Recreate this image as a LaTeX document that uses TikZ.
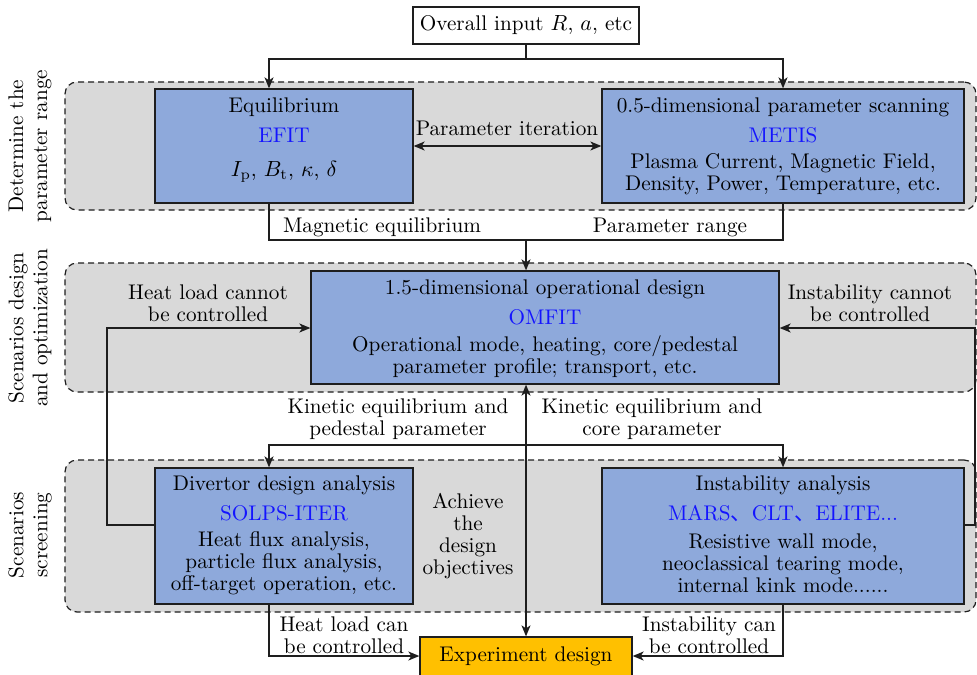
\documentclass[tikz,border=0pt]{standalone}
\usepackage{fontspec}
\newfontfamily\cjkfont{Noto Sans CJK SC}
\usetikzlibrary{arrows.meta,calc}
\definecolor{boxblue}{RGB}{142,169,219}
\definecolor{regiongray}{RGB}{217,217,217}
\definecolor{expyellow}{RGB}{255,192,0}
\definecolor{toolblue}{RGB}{20,20,255}
\definecolor{linegray}{RGB}{30,30,30}
\newcommand{\myfont}{\fontsize{10.6}{10.9}\selectfont}
\newcommand{\sidefont}{\fontsize{10.6}{12}\selectfont}
\tikzset{
  conn/.style={line width=0.65pt, draw=linegray},
  arr/.style={conn, -{Stealth[length=5.5pt,width=4.5pt,inset=1.5pt]}},
  dblarr/.style={conn, {Stealth[length=5.5pt,width=4.5pt,inset=1.5pt]}-{Stealth[length=5.5pt,width=4.5pt,inset=1.5pt]}},
  region/.style={draw=linegray, line width=0.6pt, dash pattern=on 3pt off 2pt, fill=regiongray, rounded corners=6pt, inner sep=0pt},
  blockbox/.style={draw=linegray, fill=boxblue, line width=0.65pt, inner sep=0pt},
  plainbox/.style={draw=linegray, fill=white, line width=0.65pt, inner sep=0pt, font=\myfont},
  txt/.style={inner sep=0pt, font=\myfont, align=center},
  tool/.style={txt, text=toolblue},
  side/.style={inner sep=0pt, font=\sidefont, align=center, rotate=90},
}
\begin{document}
\begin{tikzpicture}[x=0.5pt, y=-0.5pt]
\useasboundingbox (0,0) rectangle (977,674);

% regions
\node[region, minimum width=455.5pt, minimum height=64pt] (r1) at (520.5,146) {};
\node[region, minimum width=455.5pt, minimum height=64.5pt] (r2) at (520.5,327.5) {};
\node[region, minimum width=455.5pt, minimum height=76pt] (r3) at (520.5,536) {};

% side labels
\node[side] (s1) at (30,146) {Determine the\\parameter range};
\node[side] (s2) at (30,328) {Scenarios design\\and optimization};
\node[side] (s3) at (30,535) {Scenarios\\screening};

% boxes
\node[plainbox, minimum width=113pt, minimum height=18.5pt] (in) at (526,25.5) {Overall input $R$, $a$, etc};
\node[blockbox, minimum width=129pt, minimum height=57pt] (eq) at (284,146) {};
\node[blockbox, minimum width=181pt, minimum height=57pt] (metis) at (783,146) {};
\node[blockbox, minimum width=234pt, minimum height=56.5pt] (omfit) at (545,327.5) {};
\node[blockbox, minimum width=129pt, minimum height=68pt] (div) at (284,536) {};
\node[blockbox, minimum width=181pt, minimum height=68pt] (inst) at (783,536) {};
\node[plainbox, fill=expyellow, minimum width=106pt, minimum height=20pt] (exp) at (526,657) {};
\node[txt] (expt) at (526,656) {Experiment design};

% box texts
\node[txt] (eq1) at (284,107) {Equilibrium};
\node[tool] (eq2) at (284,135) {EFIT};
\node[txt] (eq3) at (284,172) {$I_\mathrm{p}$, $B_\mathrm{t}$, $\kappa$, $\delta$};

\node[txt] (me1) at (783,107) {0.5-dimensional parameter scanning};
\node[tool] (me2) at (783,135) {METIS};
\node[txt] (me3) at (783,174) {Plasma Current, Magnetic Field,\\Density, Power, Temperature, etc.};

\node[txt] (om1) at (545,289) {1.5-dimensional operational design};
\node[tool] (om2) at (545,317) {OMFIT};
\node[txt] (om3) at (545,356.5) {Operational mode, heating, core/pedestal\\parameter profile; transport, etc.};

\node[txt] (dv1) at (284,485) {Divertor design analysis};
\node[tool] (dv2) at (284,513) {SOLPS-ITER};
\node[txt] (dv3) at (284,563.5) {Heat flux analysis,\\particle flux analysis,\\off-target operation, etc.};

\node[txt] (in1) at (783,485) {Instability analysis};
\node[tool] (in2) at (783,513) {MARS{\cjkfont 、}CLT{\cjkfont 、}ELITE...};
\node[txt] (in3) at (783,563.5) {Resistive wall mode,\\neoclassical tearing mode,\\internal kink mode......};

% junction coordinates
\coordinate (jl) at (269,59);
\coordinate (jr) at (783,59);
\coordinate (mid) at (526,240);
\coordinate (ml) at (269,240);
\coordinate (mr) at (783,240);
\coordinate (hl) at (107,525);
\coordinate (hu) at (107,328);
\coordinate (ir) at (975,525);
\coordinate (iu) at (975,328);
\coordinate (kc) at (526,445);
\coordinate (kl) at (269,445);
\coordinate (kr) at (783,445);
\coordinate (bl) at (269,656);
\coordinate (br) at (783,656);

% connectors
\draw[arr] (in.south) |- (jl) -- (jl |- eq.north);
\draw[arr] (in.south) |- (jr) -- (metis.north);
\draw[dblarr] (eq.east) -- (metis.west);
\draw[conn] (jl |- eq.south) -- (ml) -- (mr) -- (metis.south);
\draw[arr] (mid) -- (mid |- omfit.north);
\draw[arr] (hl -| div.west) -- (hl) -- (hu) -- (hu -| omfit.west);
\draw[arr] (ir -| inst.east) -- (ir) -- (iu) -- (iu -| omfit.east);
\draw[dblarr] (exp.north |- omfit.south) -- (exp.north);
\draw[arr] (kc) -- (kl) -- (kl |- div.north);
\draw[arr] (kc) -- (kr) -- (inst.north);
\draw[arr] (kl |- div.south) -- (bl) -- (bl -| exp.west);
\draw[arr] (inst.south) -- (br) -- (br -| exp.east);

% connector labels
\node[txt] (l1) at (507,128) {Parameter iteration};
\node[txt] (l2) at (382,227) {Magnetic equilibrium};
\node[txt] (l3) at (670,227) {Parameter range};
\node[txt] (l4) at (208,303.5) {Heat load cannot\\be controlled};
\node[txt] (l5) at (870,303.5) {Instability cannot\\be controlled};
\node[txt] (l6) at (398,419.5) {Kinetic equilibrium and\\pedestal parameter};
\node[txt] (l7) at (652,419.5) {Kinetic equilibrium and\\core parameter};
\node[txt] (l8) at (468,536) {Achieve\\the\\design\\objectives};
\node[txt] (l9) at (344,635.5) {Heat load can\\be controlled};
\node[txt] (l10) at (709,635.5) {Instability can\\be controlled};
\end{tikzpicture}
\end{document}
